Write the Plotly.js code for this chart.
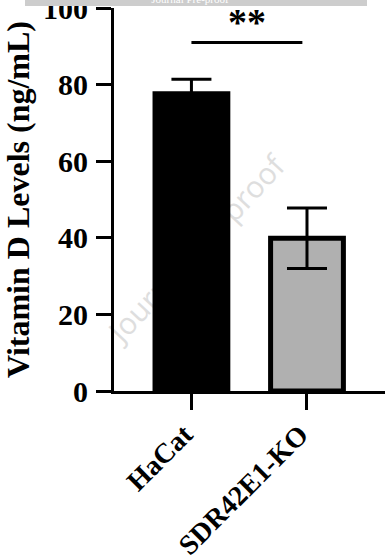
<!DOCTYPE html>
<html>
<head>
<meta charset="utf-8">
<script src="https://cdn.plot.ly/plotly-3.0.1.min.js"></script>
<style>
  html, body { margin: 0; padding: 0; background: #ffffff; }
  #wrap { position: relative; width: 385px; height: 557px; overflow: hidden; background: #ffffff; }
  #wm { position: absolute; left: 196px; top: 248px; transform: translate(-50%, -50%) rotate(-47deg);
        font-family: "Open Sans", sans-serif; font-size: 30px; color: #dedede; white-space: nowrap; z-index: 0; }
  #chart { position: absolute; left: 0; top: 0; width: 385px; height: 557px; z-index: 1; }
  #banner { position: absolute; left: 25px; top: 0; width: 342px; height: 6px; background: #cdcdcd;
            overflow: hidden; z-index: 2; text-align: center; }
  #banner span { position: absolute; left: 0; right: 0; top: -6px; font-family: "Liberation Serif", serif;
                 font-size: 11px; color: #ffffff; line-height: 11px; margin-left: -12px; }
</style>
</head>
<body>
<div id="wrap">
  <div id="wm">Journal Pre-proof</div>
  <div id="chart"></div>
  <div id="banner"><span>Journal Pre-proof</span></div>
</div>
<script>
// ---- data ----
const categories = ["HaCat", "SDR42E1-KO"];
const values = [77.6, 39.9];
const errors = [3.8, 7.9];
const barColors = ["#000000", "#b0b0b0"];
const yTicks = [0, 20, 40, 60, 80, 100];
const yTitle = "Vitamin D Levels (ng/mL)";
const sigLabel = "**";
const sigY = 91;
const sigFrom = 0;      // category index
const sigTo = 0.96;     // category index (line end)

const serif = "Liberation Serif, Times New Roman, serif";

const trace = {
  type: "bar",
  x: categories,
  y: values,
  width: 0.63,
  marker: { color: barColors, line: { color: "#000000", width: 5 } },
  error_y: { type: "data", array: errors, visible: true, color: "#000000", thickness: 3, width: 20 },
  hoverinfo: "skip"
};

const layout = {
  width: 385,
  height: 557,
  margin: { l: 114, r: 0, t: 8, b: 166, pad: 0 },
  paper_bgcolor: "rgba(0,0,0,0)",
  plot_bgcolor: "rgba(0,0,0,0)",
  showlegend: false,
  xaxis: {
    type: "category",
    range: [-0.67, 1.675],
    showline: true, linewidth: 3, linecolor: "#000000",
    ticks: "outside", ticklen: 16, tickwidth: 3, tickcolor: "#000000",
    tickangle: -45,
    ticklabelstandoff: -3,
    ticklabelshift: -7,
    ticklabeloverflow: "allow",
    tickfont: { family: serif, size: 28, weight: "bold", color: "#000000" },
    showgrid: false, zeroline: false, fixedrange: true
  },
  yaxis: {
    range: [0, 100],
    tickvals: yTicks,
    ticktext: yTicks.map(String),
    showline: true, linewidth: 3, linecolor: "#000000",
    ticks: "outside", ticklen: 15, tickwidth: 3, tickcolor: "#000000",
    ticklabelstandoff: 2,
    ticklabeloverflow: "allow",
    tickfont: { family: serif, size: 30, weight: "bold", color: "#000000" },
    title: { text: yTitle, font: { family: serif, size: 32, weight: "bold", color: "#000000" }, standoff: 12 },
    showgrid: false, zeroline: false, fixedrange: true
  },
  shapes: [{
    type: "line", xref: "x", yref: "y",
    x0: sigFrom, x1: sigTo, y0: sigY, y1: sigY,
    line: { color: "#000000", width: 3 }
  }],
  annotations: [{
    xref: "x", yref: "y",
    x: (sigFrom + sigTo) / 2, y: sigY,
    text: sigLabel, showarrow: false,
    xanchor: "center", yanchor: "bottom", yshift: -3,
    font: { family: serif, size: 38, weight: "bold", color: "#000000" }
  }]
};

Plotly.newPlot("chart", [trace], layout, { staticPlot: true, displayModeBar: false });
</script>
</body>
</html>
